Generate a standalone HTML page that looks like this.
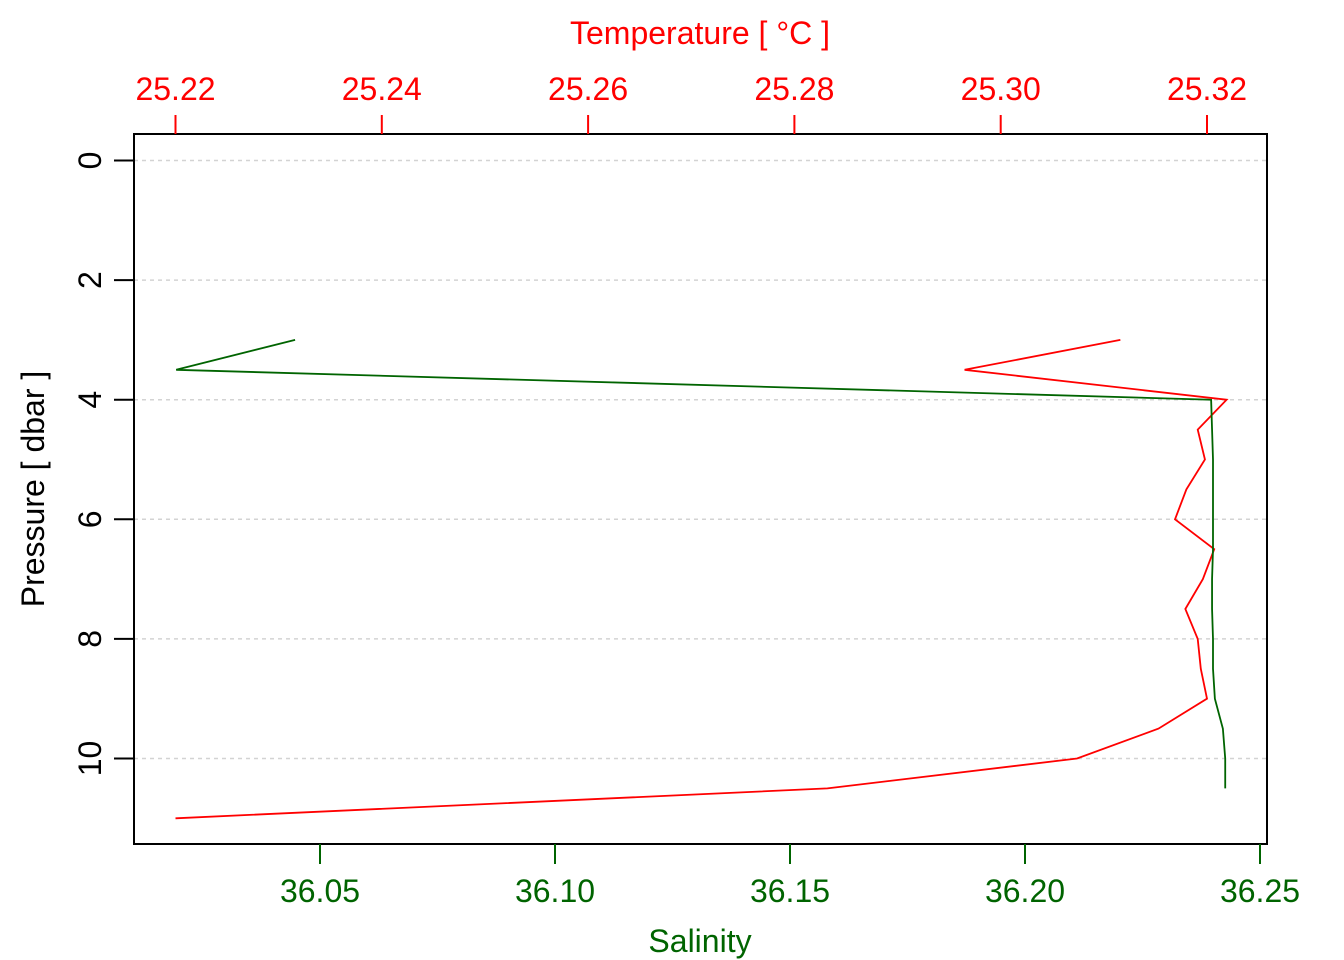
<!DOCTYPE html>
<html><head><meta charset="utf-8"><style>
html,body{margin:0;padding:0;background:#fff;}
svg{display:block;font-family:"Liberation Sans",sans-serif;}
</style></head><body>
<svg id="chart" width="1344" height="960" viewBox="0 0 1344 960" xmlns="http://www.w3.org/2000/svg"></svg>
<script>
const pressureTicks = [0, 2, 4, 6, 8, 10];
const tempTicks = [25.22, 25.24, 25.26, 25.28, 25.30, 25.32];
const tempTickLabels = ["25.22", "25.24", "25.26", "25.28", "25.30", "25.32"];
const salTicks = [36.05, 36.10, 36.15, 36.20, 36.25];
const salTickLabels = ["36.05", "36.10", "36.15", "36.20", "36.25"];
const tempPressure = [3, 3.5, 4, 4.5, 5, 5.5, 6, 6.5, 7, 7.5, 8, 8.5, 9, 9.5, 10, 10.5, 11];
const temperature = [25.3116, 25.2965, 25.3219, 25.3191, 25.3198, 25.3180, 25.3169, 25.3207, 25.3196, 25.3179, 25.3191, 25.3194, 25.3200, 25.3153, 25.3074, 25.2832, 25.2200];
const salPressure = [3, 3.5, 4, 4.5, 5, 5.5, 6, 6.5, 7, 7.5, 8, 8.5, 9, 9.5, 10, 10.5];
const salinity = [36.0447, 36.0194, 36.2396, 36.2398, 36.2400, 36.2400, 36.2400, 36.2400, 36.2398, 36.2398, 36.2400, 36.2400, 36.2404, 36.2421, 36.2426, 36.2426];

const NS = "http://www.w3.org/2000/svg";
const svg = document.getElementById('chart');
const L = 134, R = 1267, T = 134, B = 844;
const yP = p => 160.5 + p * 59.8;
const xT = t => 175.5 + (t - 25.22) * 10315;
const xS = s => 320 + (s - 36.05) * 4700;
const RED = "#ff0000", GREEN = "#006400";
const FS = 32;

function mk(tag, attrs, parent) {
  const e = document.createElementNS(NS, tag);
  for (const k in attrs) e.setAttribute(k, attrs[k]);
  (parent || svg).appendChild(e);
  return e;
}
function txt(s, attrs) { const e = mk('text', attrs); e.textContent = s; return e; }

const grid = mk('g', {});


pressureTicks.forEach(p => {
  const l = mk('line', {x1: L, x2: R, y1: yP(p), y2: yP(p), stroke: '#d3d3d3', 'stroke-width': 1.5, 'stroke-dasharray': '4 4'}, grid);
  
  
});

const tLine = mk('polyline', {fill: 'none', stroke: RED, 'stroke-width': 1.8,
  points: temperature.map((t, i) => xT(t) + ',' + yP(tempPressure[i])).join(' ')});


const sLine = mk('polyline', {fill: 'none', stroke: GREEN, 'stroke-width': 1.8,
  points: salinity.map((s, i) => xS(s) + ',' + yP(salPressure[i])).join(' ')});



const box = mk('rect', {x: L, y: T, width: R - L, height: B - T, fill: 'none', stroke: '#000', 'stroke-width': 2});



pressureTicks.forEach(p => {
  const l = mk('line', {x1: 114, x2: L, y1: yP(p), y2: yP(p), stroke: '#000', 'stroke-width': 2});
  
  
  const t = txt(String(p), {x: 0, y: 0, 'font-size': FS, 'text-anchor': 'middle', fill: '#000',
    transform: `translate(101,${yP(p)}) rotate(-90)`});
  
  
});
const yt = txt('Pressure [ dbar ]', {x: 0, y: 0, 'font-size': FS, 'text-anchor': 'middle', fill: '#000',
  transform: 'translate(44,489) rotate(-90)'});



tempTicks.forEach((v, i) => {
  const l = mk('line', {x1: xT(v), x2: xT(v), y1: 115, y2: T, stroke: RED, 'stroke-width': 2});
  
  
  const t = txt(tempTickLabels[i], {x: xT(v), y: 100, 'font-size': FS, 'text-anchor': 'middle', fill: RED});
  
  
});
const tt = txt('Temperature [ °C ]', {x: 700, y: 44, 'font-size': FS, 'text-anchor': 'middle', fill: RED});



salTicks.forEach((v, i) => {
  const l = mk('line', {x1: xS(v), x2: xS(v), y1: B, y2: 864, stroke: GREEN, 'stroke-width': 2});
  
  
  const t = txt(salTickLabels[i], {x: xS(v), y: 902, 'font-size': FS, 'text-anchor': 'middle', fill: GREEN});
  
  
});
const st = txt('Salinity', {x: 700, y: 952, 'font-size': FS, 'text-anchor': 'middle', fill: GREEN});


</script>
</body></html>
